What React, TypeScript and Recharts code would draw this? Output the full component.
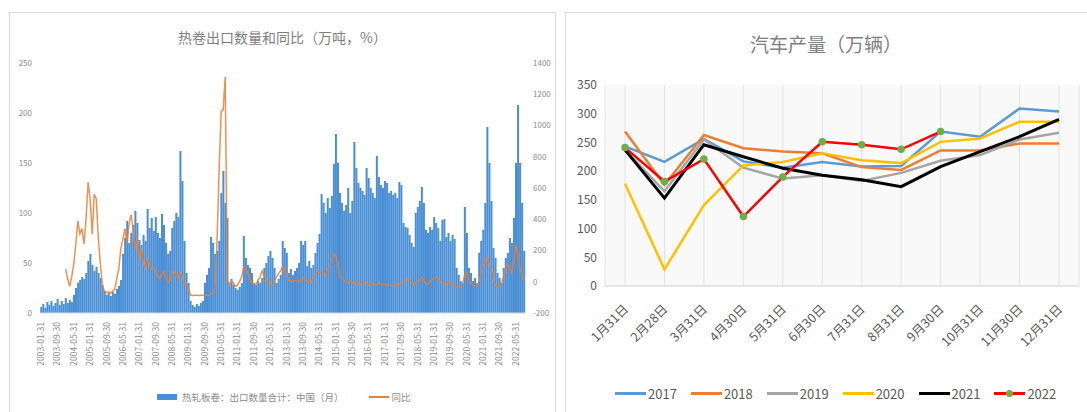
import React from 'react';
import { ComposedChart, LineChart, Bar, Line, XAxis, YAxis, CartesianGrid } from 'recharts';

const FONT = '"Noto Sans CJK SC", "Liberation Sans", sans-serif';

// 热卷出口数量（万吨），月度，自 2003-01 起
const EXPORT_QTY = [
  6, 9, 5, 11, 8, 12, 7, 10, 14, 8,
  12, 9, 15, 10, 13, 11, 18, 25, 30, 33,
  36, 34, 40, 52, 59, 48, 42, 46, 40, 35,
  28, 22, 18, 20, 17, 21, 19, 24, 27, 33,
  59, 75, 92, 70, 80, 88, 102, 90, 73, 68,
  78, 72, 104, 85, 95, 82, 96, 80, 75, 99,
  88, 70, 59, 62, 85, 92, 100, 96, 162, 132,
  72, 40, 30, 12, 8, 6, 9, 7, 10, 12,
  30, 38, 45, 76, 70, 59, 62, 72, 120, 142,
  110, 95, 30, 34, 28, 25, 23, 26, 30, 77,
  55, 48, 45, 40, 30, 28, 32, 30, 35, 45,
  50, 57, 62, 55, 45, 30, 34, 38, 72, 65,
  60, 40, 44, 38, 42, 45, 50, 72, 68, 72,
  47, 52, 45, 48, 60, 70, 79, 119, 110, 100,
  115, 105, 117, 149, 179, 150, 120, 110, 102, 108,
  125, 100, 112, 171, 145, 130, 125, 122, 118, 145,
  135, 125, 120, 115, 157, 136, 128, 125, 132, 130,
  120, 122, 118, 120, 115, 131, 128, 90, 86, 85,
  78, 70, 66, 100, 106, 112, 126, 110, 83, 80,
  86, 83, 96, 90, 85, 72, 93, 94, 76, 80,
  72, 78, 74, 45, 38, 32, 30, 106, 80, 45,
  40, 32, 35, 30, 60, 72, 83, 110, 186, 150,
  112, 65, 55, 40, 35, 30, 45, 55, 60, 75,
  70, 95, 150, 208, 150, 110, 62,
];

// 同比（%）
const EXPORT_YOY = [
  null, null, null, null, null, null, null, null, null, null,
  null, null, 83, 19, -30, 32, 115, 240, 390, 305,
  340, 240, 400, 637, 530, 305, 560, 530, 275, 115,
  -30, -60, -70, -65, -75, -60, -50, 20, 83, 210,
  275, 340, 240, 370, 430, 340, 210, 275, 146, 210,
  115, 83, 146, 115, 83, 90, 60, 40, 20, 45,
  70, 30, -5, 10, 55, 70, 40, 25, 60, 30,
  -10, -15, -40, -85, -88, -86, -87, -88, -86, -87,
  -86, -85, -87, -80, -70, -40, 260, 700, 1090, 1100,
  1310, 10, -20, 5, -10, -30, -20, 0, 30, 95,
  80, 60, 20, -13, -10, -20, 10, 30, 70, 40,
  20, -13, -10, -20, 0, 30, 50, 70, 95, 80,
  40, 10, 6, 0, 10, 6, -5, 20, 30, 10,
  0, 6, -10, 20, 40, 70, 60, 70, 50, 40,
  80, 100, 140, 178, 170, 120, 30, 20, 10, 0,
  -10, 5, -5, -13, 0, -10, -20, -15, -10, -5,
  -20, -25, -10, -15, -20, -5, -10, -20, -15, -25,
  -20, -20, -30, -25, -15, -20, -10, 0, 10, 20,
  15, -5, -20, -10, 0, 10, 30, 10, -10, -20,
  0, 15, 20, 30, 20, 0, -10, -20, -15, 0,
  -10, -20, -30, -35, -40, -30, -13, 40, 60, 20,
  -10, -20, -30, -25, 0, 60, 100, 134, 160, 110,
  80, 20, -20, -40, -30, -10, 30, 80, 110, 100,
  60, 120, 240, 180, 90, 40, 10,
];

const QTY_TICKS = [0, 50, 100, 150, 200, 250];
const YOY_TICKS = [-200, 0, 200, 400, 600, 800, 1000, 1200, 1400];
const START_YEAR = 2003;

// 汽车产量（万辆）
const MONTHS = ['1月31日', '2月28日', '3月31日', '4月30日', '5月31日', '6月30日', '7月31日', '8月31日', '9月30日', '10月31日', '11月30日', '12月31日'];
const CAR_2017 = [243, 216, 256, 217, 206, 216, 208, 209, 269, 260, 309, 304];
const CAR_2018 = [269, 176, 263, 240, 234, 231, 207, 202, 236, 236, 248, 248];
const CAR_2019 = [237, 165, 255, 206, 187, 193, 183, 197, 218, 228, 255, 267];
const CAR_2020 = [178, 29, 141, 210, 216, 231, 219, 214, 251, 257, 286, 286];
const CAR_2021 = [237, 153, 246, 225, 205, 193, 185, 173, 208, 234, 260, 290];
const CAR_2022 = [241, 182, 221, 121, 190, 251, 246, 238, 269];
const CAR_TICKS = [0, 50, 100, 150, 200, 250, 300, 350];

const SERIES = [
  { key: 'y2017', name: '2017', color: '#5B9BD5', values: CAR_2017 },
  { key: 'y2018', name: '2018', color: '#ED7D31', values: CAR_2018 },
  { key: 'y2019', name: '2019', color: '#A5A5A5', values: CAR_2019 },
  { key: 'y2020', name: '2020', color: '#FFC000', values: CAR_2020 },
  { key: 'y2021', name: '2021', color: '#000000', values: CAR_2021 },
  { key: 'y2022', name: '2022', color: '#FF0000', values: CAR_2022 },
];

const exportData = EXPORT_QTY.map((q, i) => {
  const y = START_YEAR + Math.floor(i / 12);
  const m = i % 12;
  const last = new Date(Date.UTC(y, m + 1, 0)).getUTCDate();
  return {
    date: `${y}-${String(m + 1).padStart(2, '0')}-${last}`,
    qty: q,
    yoy: EXPORT_YOY[i] ?? null,
  };
});

const carData = MONTHS.map((m, i) => {
  const row: any = { month: m };
  SERIES.forEach((s) => {
    row[s.key] = s.values[i] ?? null;
  });
  return row;
});

const DateTick = ({ x, y, payload }: any) => {
  const tx = x + 3;
  const ty = y + 1;
  return (
    <text x={tx} y={ty} transform={`rotate(-90 ${tx} ${ty})`} textAnchor="end" fontSize={8.5} fill="#8c8c8c">
      {payload.value}
    </text>
  );
};

const MonthTick = ({ x, y, payload }: any) => {
  const tx = x + 4;
  const ty = y + 16;
  return (
    <text x={tx} y={ty} transform={`rotate(-45 ${tx} ${ty})`} textAnchor="end" fontSize={12.5} fill="#595959">
      {payload.value}
    </text>
  );
};

export default function App() {
  return (
    <div style={{ position: 'absolute', left: 0, top: 0, width: 1087, height: 412, background: '#fff', overflow: 'hidden', fontFamily: FONT }}>
      {/* left panel */}
      <div style={{ position: 'absolute', left: 9, top: 12, width: 547, height: 410, border: '1px solid #d9d9d9', boxSizing: 'border-box' }} />
      <div style={{ position: 'absolute', left: 9, top: 28, width: 547, textAlign: 'center', fontSize: 14, lineHeight: '18px', color: '#7f7f7f' }}>
        热卷出口数量和同比（万吨，%）
      </div>
      <div style={{ position: 'absolute', left: 9, top: 12 }}>
        <ComposedChart width={547} height={400} data={exportData} margin={{ top: 51, right: 0, bottom: 29, left: 0 }} barCategoryGap="12%">
          <XAxis dataKey="date" interval={7} tick={<DateTick />} tickLine={false} axisLine={{ stroke: '#d9d9d9' }} height={70} />
          <YAxis yAxisId="q" domain={[0, 250]} ticks={QTY_TICKS} width={31} axisLine={false} tickLine={false} tick={{ fontSize: 8, fill: '#8c8c8c' }} />
          <YAxis yAxisId="p" orientation="right" domain={[-200, 1400]} ticks={YOY_TICKS} width={31} axisLine={false} tickLine={false} tick={{ fontSize: 8, fill: '#8c8c8c' }} />
          <Bar yAxisId="q" dataKey="qty" fill="#4a8fd6" isAnimationActive={false} />
          <Line yAxisId="p" type="linear" dataKey="yoy" stroke="#ED7D31" strokeOpacity={0.85} strokeWidth={1.5} dot={false} isAnimationActive={false} />
        </ComposedChart>
      </div>
      <div style={{ position: 'absolute', left: 157, top: 390, display: 'flex', alignItems: 'center', fontSize: 9.5, color: '#8c8c8c', whiteSpace: 'nowrap' }}>
        <span style={{ display: 'inline-block', width: 20, height: 6, background: '#4a8fd6', marginRight: 5 }} />
        <span>热轧板卷：出口数量合计：中国（月）</span>
        <span style={{ display: 'inline-block', width: 20, height: 2, background: '#ED7D31', marginLeft: 25, marginRight: 3 }} />
        <span>同比</span>
      </div>

      {/* right panel */}
      <div style={{ position: 'absolute', left: 565, top: 12, width: 530, height: 410, border: '1px solid #d9d9d9', boxSizing: 'border-box' }} />
      <div style={{ position: 'absolute', left: 565, top: 32, width: 522, textAlign: 'center', fontSize: 19, lineHeight: '24px', color: '#808080' }}>
        汽车产量（万辆）
      </div>
      <div style={{ position: 'absolute', left: 565, top: 12 }}>
        <LineChart width={522} height={400} data={carData} margin={{ top: 73, right: 8, bottom: 46, left: 0 }}>
          <CartesianGrid horizontal={false} stroke="#e2e2e2" fill="#f9f9f9" />
          <XAxis dataKey="month" padding={{ left: 20, right: 20 }} interval={0} tick={<MonthTick />} tickLine={false} axisLine={{ stroke: '#d0d0d0' }} height={80} />
          <YAxis domain={[0, 350]} ticks={CAR_TICKS} width={40} axisLine={false} tickLine={false} tick={{ fontSize: 12, fill: '#595959' }} />
          {SERIES.map((s) => (
            <Line
              key={s.key}
              type="linear"
              dataKey={s.key}
              name={s.name}
              stroke={s.color}
              strokeWidth={s.key === 'y2021' ? 3 : 2.5}
              dot={s.key === 'y2022' ? { r: 2.5, fill: '#70AD47', stroke: '#70AD47' } : false}
              isAnimationActive={false}
            />
          ))}
        </LineChart>
      </div>
      <div style={{ position: 'absolute', left: 615, top: 384, display: 'flex', alignItems: 'center', fontSize: 13, color: '#595959', whiteSpace: 'nowrap' }}>
        {SERIES.map((s) => (
          <div key={s.key} style={{ display: 'flex', alignItems: 'center', marginRight: 14 }}>
            <span style={{ position: 'relative', display: 'inline-block', width: 31, height: 3, background: s.color, marginRight: 2 }}>
              {s.key === 'y2022' && (
                <span style={{ position: 'absolute', left: 12, top: -2, width: 7, height: 7, borderRadius: 4, background: '#70AD47' }} />
              )}
            </span>
            <span>{s.name}</span>
          </div>
        ))}
      </div>
    </div>
  );
}
